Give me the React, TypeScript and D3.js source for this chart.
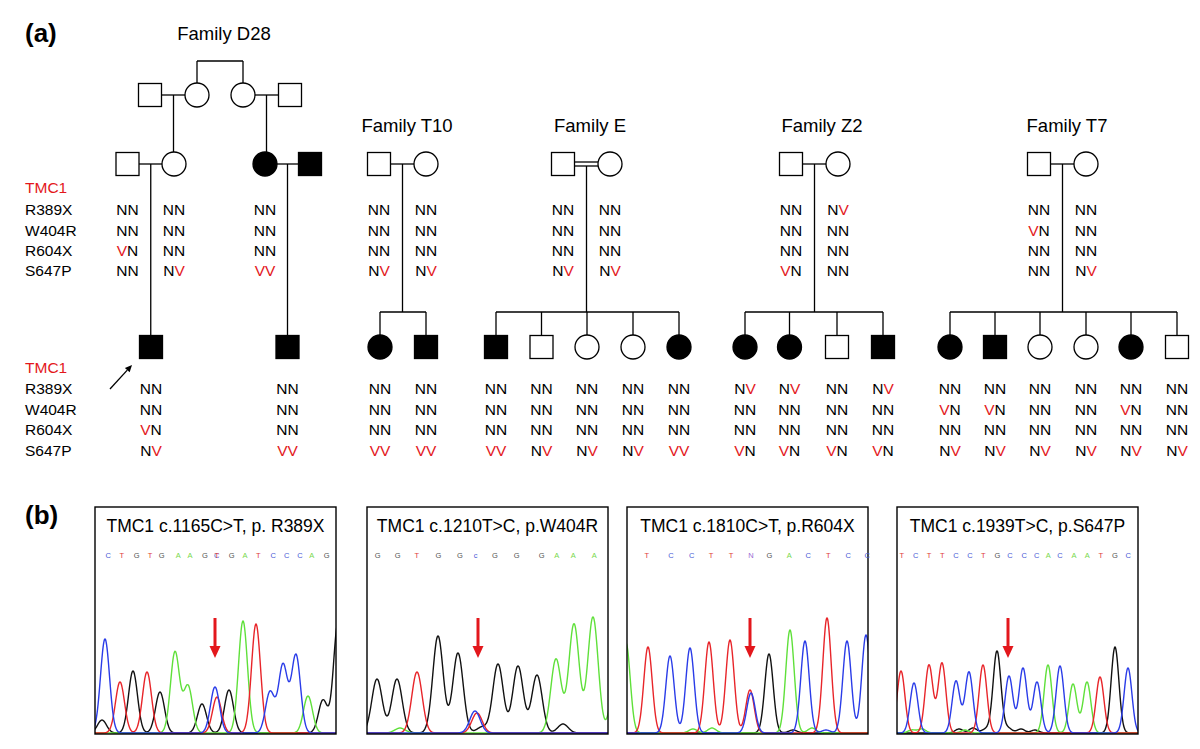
import React from "react";
import * as d3 from "d3";

const FONT = "'Liberation Sans', Arial, Helvetica, sans-serif";
const RED = "#e3171c";

// ---------- Pedigree data ----------
const GENE = "TMC1";
const VARIANTS = ["R389X", "W404R", "R604X", "S647P"];
const FAMILY_NAMES = ["Family D28", "Family T10", "Family E", "Family Z2", "Family T7"];

// [id, symbol (m/f unaffected, M/F affected), genotypes per variant or null]
type Person = [string, string, string[] | null];
const PEOPLE_D28: Person[] = [
  ["D-I1", "m", null], ["D-I2", "f", null], ["D-I3", "f", null], ["D-I4", "m", null],
  ["D-II1", "m", ["NN", "NN", "VN", "NN"]], ["D-II2", "f", ["NN", "NN", "NN", "NV"]],
  ["D-II3", "F", ["NN", "NN", "NN", "VV"]], ["D-II4", "M", null],
  ["D-III1", "M", ["NN", "NN", "VN", "NV"]], ["D-III2", "M", ["NN", "NN", "NN", "VV"]],
];
const PEOPLE_T10: Person[] = [
  ["T10-1", "m", ["NN", "NN", "NN", "NV"]], ["T10-2", "f", ["NN", "NN", "NN", "NV"]],
  ["T10-3", "F", ["NN", "NN", "NN", "VV"]], ["T10-4", "M", ["NN", "NN", "NN", "VV"]],
];
const PEOPLE_E: Person[] = [
  ["E-1", "m", ["NN", "NN", "NN", "NV"]], ["E-2", "f", ["NN", "NN", "NN", "NV"]],
  ["E-3", "M", ["NN", "NN", "NN", "VV"]], ["E-4", "m", ["NN", "NN", "NN", "NV"]],
  ["E-5", "f", ["NN", "NN", "NN", "NV"]], ["E-6", "f", ["NN", "NN", "NN", "NV"]],
  ["E-7", "F", ["NN", "NN", "NN", "VV"]],
];
const PEOPLE_Z2: Person[] = [
  ["Z-1", "m", ["NN", "NN", "NN", "VN"]], ["Z-2", "f", ["NV", "NN", "NN", "NN"]],
  ["Z-3", "F", ["NV", "NN", "NN", "VN"]], ["Z-4", "F", ["NV", "NN", "NN", "VN"]],
  ["Z-5", "m", ["NN", "NN", "NN", "VN"]], ["Z-6", "M", ["NV", "NN", "NN", "VN"]],
];
const PEOPLE_T7: Person[] = [
  ["T7-1", "m", ["NN", "VN", "NN", "NN"]], ["T7-2", "f", ["NN", "NN", "NN", "NV"]],
  ["T7-3", "F", ["NN", "VN", "NN", "NV"]], ["T7-4", "M", ["NN", "VN", "NN", "NV"]],
  ["T7-5", "f", ["NN", "NN", "NN", "NV"]], ["T7-6", "f", ["NN", "NN", "NN", "NV"]],
  ["T7-7", "F", ["NN", "VN", "NN", "NV"]], ["T7-8", "m", ["NN", "NN", "NN", "NV"]],
];
const PEOPLE = [...PEOPLE_D28, ...PEOPLE_T10, ...PEOPLE_E, ...PEOPLE_Z2, ...PEOPLE_T7];

// couples: [left, right, consanguineous]
const COUPLES: [string, string, boolean][] = [
  ["D-I1", "D-I2", false], ["D-I3", "D-I4", false], ["D-II1", "D-II2", false], ["D-II3", "D-II4", false],
  ["T10-1", "T10-2", false], ["E-1", "E-2", true], ["Z-1", "Z-2", false], ["T7-1", "T7-2", false],
];
// descents: [left parent, right parent, children]
const DESCENTS: [string, string, string[]][] = [
  ["D-I1", "D-I2", ["D-II2"]], ["D-I3", "D-I4", ["D-II3"]],
  ["D-II1", "D-II2", ["D-III1"]], ["D-II3", "D-II4", ["D-III2"]],
  ["T10-1", "T10-2", ["T10-3", "T10-4"]],
  ["E-1", "E-2", ["E-3", "E-4", "E-5", "E-6", "E-7"]],
  ["Z-1", "Z-2", ["Z-3", "Z-4", "Z-5", "Z-6"]],
  ["T7-1", "T7-2", ["T7-3", "T7-4", "T7-5", "T7-6", "T7-7", "T7-8"]],
];
const SIBLINGS_NO_PARENTS = ["D-I2", "D-I3"];
const PROBAND = "D-III1";

// ---------- Layout (positions) ----------
const POS: Record<string, [number, number]> = {
  "D-I1": [150, 0], "D-I2": [197, 0], "D-I3": [243, 0], "D-I4": [290, 0],
  "D-II1": [127.5, 1], "D-II2": [174, 1], "D-II3": [265, 1], "D-II4": [310, 1],
  "D-III1": [151, 2], "D-III2": [287.5, 2],
  "T10-1": [379, 1], "T10-2": [426, 1], "T10-3": [380, 2], "T10-4": [426, 2],
  "E-1": [563, 1], "E-2": [610, 1], "E-3": [496, 2], "E-4": [541.5, 2], "E-5": [587, 2], "E-6": [633, 2], "E-7": [679, 2],
  "Z-1": [791, 1], "Z-2": [838, 1], "Z-3": [745, 2], "Z-4": [789.5, 2], "Z-5": [837, 2], "Z-6": [883, 2],
  "T7-1": [1039, 1], "T7-2": [1086, 1], "T7-3": [950, 2], "T7-4": [995, 2], "T7-5": [1040, 2], "T7-6": [1086, 2], "T7-7": [1131, 2], "T7-8": [1177, 2],
};
const ROW_Y = [95, 164, 347];
const FAMILY_TITLE_POS: [number, number][] = [[224, 40], [407, 132], [590, 132], [822, 132], [1067, 132]];
const GENO_BASELINES = { 1: [193, 215, 235.5, 255.5, 275.5], 2: [373, 394, 414.5, 435, 455.5] } as Record<number, number[]>;
const SIB_Y = 312;
const HALF = 11.5;
const R = 12;

// ---------- Chromatogram data ----------
const CHROMA_TITLES = [
  "TMC1 c.1165C>T, p. R389X",
  "TMC1 c.1210T>C, p.W404R",
  "TMC1 c.1810C>T, p.R604X",
  "TMC1 c.1939T>C, p.S647P",
];
type Peaks = Record<string, [number, number][]>;
const PEAKS_1: Peaks = {
  A: [[80, 81], [93, 47], [148, 112], [213, 37]],
  C: [[10, 94], [120, 46], [175, 41], [188, 68], [201, 78]],
  G: [[7, 13], [38, 62], [65, 41], [107, 29], [134, 43], [228, 33], [243, 110]],
  T: [[25, 51], [52, 61], [122, 36], [161, 109]],
};
const PEAKS_2: Peaks = {
  A: [[33, 5], [189, 74], [207, 109], [226, 116], [250, 80]],
  C: [[108, 22]],
  G: [[10, 54], [30, 54], [71, 97], [91, 80], [115, 6], [131, 69], [151, 67], [170, 58], [196, 9]],
  T: [[50, 61], [110, 20]],
};
const PEAKS_3: Peaks = {
  A: [[-1, 90], [66, 4], [85, 5], [163, 103], [185, 5]],
  C: [[43, 77], [63, 85], [124, 40], [178, 92], [199, 3], [220, 92], [239, 98]],
  G: [[142, 79], [166, 3]],
  T: [[21, 86], [82, 91], [103, 93], [123, 43], [200, 115]],
};
const PEAKS_4: Peaks = {
  A: [[15, 3], [25, 4], [68, 3], [151, 68], [176, 49], [190, 51]],
  C: [[17, 50], [59, 52], [72, 61], [112, 57], [126, 65], [140, 51], [163, 67], [231, 65]],
  G: [[62, 4], [76, 5], [89, 4], [100, 82], [111, 5], [124, 4], [138, 3], [218, 86]],
  T: [[4, 62], [32, 68], [45, 70], [86, 68], [203, 56]],
};
const PEAK_WIDTHS = [4.5, 5.2, 4.2, 3.9];
const BASES_1: [string, number][] = [["C", 13.3], ["T", 26.7], ["G", 41.7], ["T", 55], ["G", 66.7], ["A", 83.3], ["A", 95], ["G", 110], ["C", 121.7], ["T", 121.7], ["G", 136.7], ["A", 150], ["T", 163.3], ["C", 178.3], ["C", 191.7], ["C", 205], ["A", 216.7], ["G", 231.7]];
const BASES_2: [string, number][] = [["G", 10.7], ["G", 30.7], ["T", 49.7], ["G", 71.3], ["G", 93], ["c", 108.7], ["G", 128], ["G", 149.7], ["G", 174.7], ["A", 189.7], ["A", 206.3], ["A", 227.3]];
const BASES_3: [string, number][] = [["T", 19.7], ["C", 44], ["C", 64.7], ["T", 84], ["T", 104], ["N", 124], ["G", 142.3], ["A", 162.3], ["C", 181.3], ["T", 201.3], ["C", 221.3], ["C", 240.3]];
const BASES_4: [string, number][] = [["T", 4.7], ["C", 18.7], ["T", 32], ["T", 45.3], ["C", 59], ["C", 73], ["T", 86.3], ["G", 100.3], ["C", 113], ["C", 127.3], ["C", 139.7], ["A", 151.3], ["C", 163], ["A", 177], ["A", 190.3], ["T", 203.7], ["G", 218], ["C", 231.3]];
const MUTATION_POS = [120, 111, 123, 111];

const PANEL_X = [95, 367, 627, 897];
const PANEL_W = 241;
const PANEL_TOP = 507;
const PANEL_BOTTOM = 734;

const TRACE_COLORS: Record<string, string> = { A: "#5fe03a", C: "#2a3ce8", G: "#111111", T: "#e8252a" };
const BASE_COLORS: Record<string, string> = { A: "#78d84c", C: "#4a5ad6", c: "#4a5ad6", G: "#555555", T: "#e0403a", N: "#9a6ad4" };

const TXT = 15.5;

function Symbol({ x, y, code }: { x: number; y: number; code: string }) {
  const filled = code === "M" || code === "F";
  const male = code.toLowerCase() === "m";
  const fill = filled ? "#000" : "#fff";
  return male ? (
    <rect x={x - HALF} y={y - HALF} width={HALF * 2} height={HALF * 2} fill={fill} stroke="#000" strokeWidth={1.3} />
  ) : (
    <circle cx={x} cy={y} r={R} fill={fill} stroke="#000" strokeWidth={1.3} />
  );
}

function halfWidth(id: string) {
  const p = PEOPLE.find((q) => q[0] === id)!;
  return p[1].toLowerCase() === "m" ? HALF : R;
}

function Pedigree() {
  const lines: JSX.Element[] = [];
  let k = 0;
  const L = (x1: number, y1: number, x2: number, y2: number) =>
    lines.push(<line key={k++} x1={x1} y1={y1} x2={x2} y2={y2} stroke="#000" strokeWidth={1.3} />);

  COUPLES.forEach(([a, b, cons]) => {
    const [xa, ra] = POS[a];
    const [xb] = POS[b];
    const y = ROW_Y[ra];
    const x1 = xa + halfWidth(a);
    const x2 = xb - halfWidth(b);
    if (cons) {
      L(x1, y - 2, x2, y - 2);
      L(x1, y + 2, x2, y + 2);
    } else L(x1, y, x2, y);
  });

  DESCENTS.forEach(([a, b, kids]) => {
    const [xa, ra] = POS[a];
    const [xb] = POS[b];
    const mx = (xa + xb) / 2;
    const y0 = ROW_Y[ra] + (COUPLES.find((c) => c[0] === a)?.[2] ? 2 : 0);
    const top = (id: string) => ROW_Y[POS[id][1]] - halfWidth(id);
    if (kids.length === 1) {
      L(mx, y0, mx, top(kids[0]));
    } else {
      L(mx, y0, mx, SIB_Y);
      const xs = kids.map((c) => POS[c][0]);
      L(d3.min(xs)!, SIB_Y, d3.max(xs)!, SIB_Y);
      kids.forEach((c) => L(POS[c][0], SIB_Y, POS[c][0], top(c)));
    }
  });

  // siblings without parents (D28 generation I)
  const sx = SIBLINGS_NO_PARENTS.map((id) => POS[id][0]);
  const sy = 61;
  L(sx[0], sy, sx[1], sy);
  SIBLINGS_NO_PARENTS.forEach((id) => L(POS[id][0], sy, POS[id][0], ROW_Y[POS[id][1]] - halfWidth(id)));

  // proband arrow
  const [px, pr] = POS[PROBAND];
  const ax1 = px - 41, ay1 = ROW_Y[pr] + 42, ax2 = px - 19, ay2 = ROW_Y[pr] + 18;
  const ang = Math.atan2(ay2 - ay1, ax2 - ax1);
  const hl = 7, hw = 3.2;
  const bx = ax2 - hl * Math.cos(ang), by = ay2 - hl * Math.sin(ang);
  const head = `M${ax2},${ay2} L${bx + hw * Math.sin(ang)},${by - hw * Math.cos(ang)} L${bx - hw * Math.sin(ang)},${by + hw * Math.cos(ang)} Z`;

  return (
    <g>
      {lines}
      <line x1={ax1} y1={ay1} x2={bx} y2={by} stroke="#000" strokeWidth={1.3} />
      <path d={head} fill="#000" />
      {PEOPLE.map(([id, code]) => (
        <Symbol key={id} x={POS[id][0]} y={ROW_Y[POS[id][1]]} code={code} />
      ))}
      {FAMILY_NAMES.map((n, i) => (
        <text key={n} x={FAMILY_TITLE_POS[i][0]} y={FAMILY_TITLE_POS[i][1]} textAnchor="middle" fontSize={18.5}>
          {n}
        </text>
      ))}
      {[1, 2].map((row) => (
        <g key={row}>
          <text x={25} y={GENO_BASELINES[row][0]} fontSize={TXT} fill={RED}>
            {GENE}
          </text>
          {VARIANTS.map((v, j) => (
            <text key={v} x={25} y={GENO_BASELINES[row][j + 1]} fontSize={TXT}>
              {v}
            </text>
          ))}
        </g>
      ))}
      {PEOPLE.filter((p) => p[2]).map(([id, , g]) => {
        const [x, row] = POS[id];
        return g!.map((s, j) => (
          <text key={id + j} x={x} y={GENO_BASELINES[row][j + 1]} fontSize={TXT} textAnchor="middle">
            {s.split("").map((c, q) => (
              <tspan key={q} fill={c === "V" ? RED : "#000"}>
                {c}
              </tspan>
            ))}
          </text>
        ));
      })}
    </g>
  );
}

function Chromatogram({ i, peaks, bases }: { i: number; peaks: Peaks; bases: [string, number][] }) {
  const x0 = PANEL_X[i];
  const xs = d3.scaleLinear().domain([0, PANEL_W]).range([x0, x0 + PANEL_W]);
  const ys = d3.scaleLinear().domain([0, PANEL_BOTTOM - PANEL_TOP]).range([PANEL_BOTTOM - 1, PANEL_TOP - 1]);
  const sig = PEAK_WIDTHS[i];
  const samples = d3.range(-2, PANEL_W + 2.01, 0.5);
  const line = d3
    .line<[number, number]>()
    .x((d) => xs(d[0]))
    .y((d) => ys(d[1]))
    .curve(d3.curveMonotoneX);
  const clipId = `clip${i}`;
  const ax = xs(MUTATION_POS[i]);
  return (
    <g>
      <defs>
        <clipPath id={clipId}>
          <rect x={x0} y={PANEL_TOP} width={PANEL_W} height={PANEL_BOTTOM - PANEL_TOP} />
        </clipPath>
      </defs>
      <g clipPath={`url(#${clipId})`}>
        {["G", "A", "T", "C"].map((ch) => {
          const pts: [number, number][] = samples.map((s) => [
            s,
            d3.sum(peaks[ch], (p) => p[1] * Math.exp(-((s - p[0]) ** 2) / (2 * sig * sig))),
          ]);
          return <path key={ch} d={line(pts)!} fill="none" stroke={TRACE_COLORS[ch]} strokeWidth={1.4} strokeLinejoin="round" />;
        })}
      </g>
      <rect x={x0} y={PANEL_TOP} width={PANEL_W} height={PANEL_BOTTOM - PANEL_TOP} fill="none" stroke="#000" strokeWidth={1.4} />
      <text x={x0 + PANEL_W / 2} y={532} textAnchor="middle" fontSize={17.5}>
        {CHROMA_TITLES[i]}
      </text>
      {bases.map(([b, p], j) => (
        <text key={j} x={xs(p)} y={558} textAnchor="middle" fontSize={7.5} fill={BASE_COLORS[b]}>
          {b}
        </text>
      ))}
      <line x1={ax} y1={618} x2={ax} y2={648} stroke={RED} strokeWidth={3} />
      <path d={`M${ax - 5.5},${646} L${ax + 5.5},${646} L${ax},${658} Z`} fill={RED} />
    </g>
  );
}

export default function App() {
  const peaksAll = [PEAKS_1, PEAKS_2, PEAKS_3, PEAKS_4];
  const basesAll = [BASES_1, BASES_2, BASES_3, BASES_4];
  return (
    <svg
      width={1200}
      height={749}
      style={{ position: "absolute", left: 0, top: 0, background: "#fff" }}
      fontFamily={FONT}
    >
      <rect x={0} y={0} width={1200} height={749} fill="#fff" />
      <text x={25} y={42} fontSize={26} fontWeight="bold">
        (a)
      </text>
      <text x={25} y={524} fontSize={26} fontWeight="bold">
        (b)
      </text>
      <Pedigree />
      {CHROMA_TITLES.map((_, i) => (
        <Chromatogram key={i} i={i} peaks={peaksAll[i]} bases={basesAll[i]} />
      ))}
    </svg>
  );
}
